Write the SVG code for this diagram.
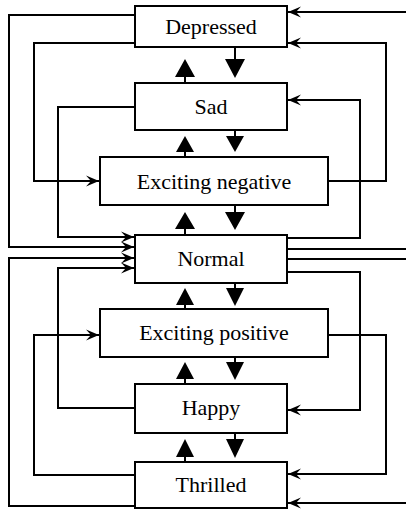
<svg xmlns="http://www.w3.org/2000/svg" width="406" height="510" viewBox="0 0 406 510">
<style>
.box{fill:#fff;stroke:#000;stroke-width:2}
.lbl{font-family:"Liberation Serif","Times New Roman",serif;font-size:22px;fill:#000;text-anchor:middle}
.ln{fill:none;stroke:#000;stroke-width:2}
.tri{fill:#000;stroke:none}
</style>
<defs>
<marker id="ah" markerUnits="userSpaceOnUse" markerWidth="16" markerHeight="12" refX="14" refY="6" orient="auto">
<path d="M14,6 L1,0.5 L6,6 L1,11.5 Z" fill="#000"/>
</marker>
</defs>
<rect width="406" height="510" fill="#fff"/>
<g id="connectors">
<polyline class="ln" points="135,15 9,15 9,247 134,247" marker-end="url(#ah)"/>
<polyline class="ln" points="135,43 34,43 34,181 99,181" marker-end="url(#ah)"/>
<polyline class="ln" points="135,107 58,107 58,237 134,237" marker-end="url(#ah)"/>
<polyline class="ln" points="135,408 58,408 58,268 134,268" marker-end="url(#ah)"/>
<polyline class="ln" points="135,475 34,475 34,335 99,335" marker-end="url(#ah)"/>
<polyline class="ln" points="135,506 9,506 9,258 134,258" marker-end="url(#ah)"/>
<polyline class="ln" points="287,249 406,249"/>
<polyline class="ln" points="406,12 288,12" marker-end="url(#ah)"/>
<polyline class="ln" points="328,181 386,181 386,43 288,43" marker-end="url(#ah)"/>
<polyline class="ln" points="287,238 360,238 360,100 288,100" marker-end="url(#ah)"/>
<polyline class="ln" points="287,272 360,272 360,410 288,410" marker-end="url(#ah)"/>
<polyline class="ln" points="328,335 386,335 386,474 288,474" marker-end="url(#ah)"/>
<polyline class="ln" points="287,259 406,259"/>
<polyline class="ln" points="406,503 288,503" marker-end="url(#ah)"/>
<path class="ln" d="M185,83 V76 M235,47 V60 M185,157 V151 M235,130 V137 M185,235 V228 M235,205 V213 M185,309 V305 M235,283 V288 M185,384 V378 M235,357 V363 M185,462 V456 M235,433 V440"/>
<path class="tri" d="M175,77 L195,77 L185,59 Z M225,59 L245,59 L235,78 Z"/>
<path class="tri" d="M176,152 L194,152 L185,136 Z M226,136 L244,136 L235,152 Z"/>
<path class="tri" d="M175,229 L195,229 L185,212 Z M225,212 L245,212 L235,230 Z"/>
<path class="tri" d="M176,305 L194,305 L185,288 Z M226,288 L244,288 L235,306 Z"/>
<path class="tri" d="M176,379 L194,379 L185,362 Z M226,362 L244,362 L235,380 Z"/>
<path class="tri" d="M176,457 L194,457 L185,439 Z M226,439 L244,439 L235,458 Z"/>
</g>
<g id="depressed"><rect class="box" x="135" y="6" width="152" height="41"/><text class="lbl" x="211" y="34">Depressed</text></g>
<g id="sad"><rect class="box" x="135" y="83" width="152" height="47"/><text class="lbl" x="211" y="114">Sad</text></g>
<g id="exciting-negative"><rect class="box" x="100" y="157" width="228" height="48"/><text class="lbl" x="214" y="189">Exciting negative</text></g>
<g id="normal"><rect class="box" x="135" y="235" width="152" height="48"/><text class="lbl" x="211" y="266">Normal</text></g>
<g id="exciting-positive"><rect class="box" x="100" y="309" width="228" height="48"/><text class="lbl" x="214" y="340">Exciting positive</text></g>
<g id="happy"><rect class="box" x="135" y="384" width="152" height="49"/><text class="lbl" x="211" y="415">Happy</text></g>
<g id="thrilled"><rect class="box" x="135" y="462" width="152" height="46"/><text class="lbl" x="211" y="492">Thrilled</text></g>
</svg>
